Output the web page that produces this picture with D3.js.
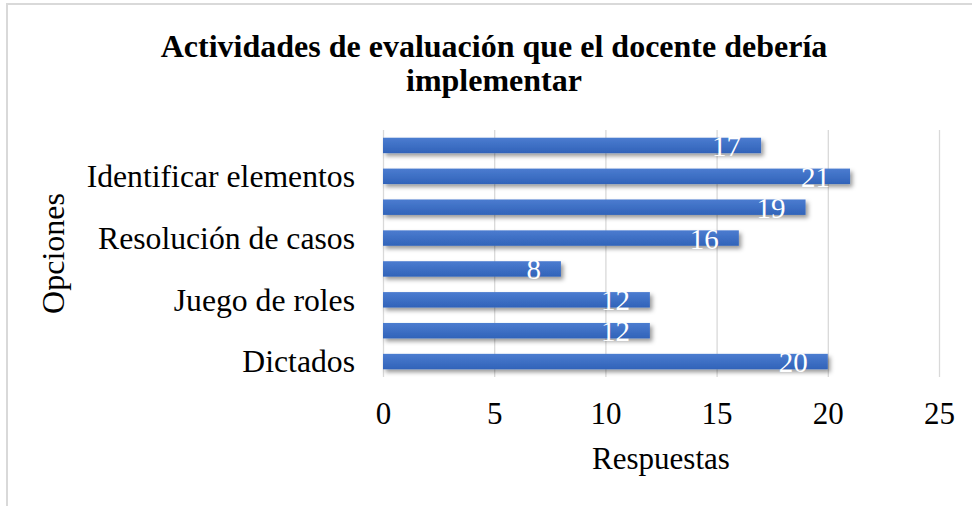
<!DOCTYPE html>
<html>
<head>
<meta charset="utf-8">
<script src="https://cdn.jsdelivr.net/npm/d3@7"></script>
<style>
  html, body { margin: 0; padding: 0; background: #fff; }
  svg { display: block; }
</style>
</head>
<body>
<svg id="chart" width="972" height="506"></svg>
<script>
// Data (top to bottom as drawn)
const categories = [
  "Opción 8",
  "Identificar elementos",
  "Opción 6",
  "Resolución de casos",
  "Opción 4",
  "Juego de roles",
  "Opción 2",
  "Dictados"
];
const values = [17, 21, 19, 16, 8, 12, 12, 20];
const shownLabels = ["Identificar elementos", "Resolución de casos", "Juego de roles", "Dictados"];
const xTicks = [0, 5, 10, 15, 20, 25];
const titleLines = ["Actividades de evaluación que el docente debería", "implementar"];
const xTitle = "Respuestas";
const yTitle = "Opciones";

const svg = d3.select("#chart");
const W = 972, H = 506;
const font = "'Liberation Serif', 'Times New Roman', serif";

svg.append("rect").attr("width", W).attr("height", H).attr("fill", "#fff");

// chart border (partially visible)
svg.append("path")
  .attr("d", `M7,${H} L7,4 L${W},4`)
  .attr("fill", "none").attr("stroke", "#d9d9d9").attr("stroke-width", 2);

const plot = { left: 383, right: 939, top: 130, bottom: 377 };

const x = d3.scaleLinear().domain([0, 25]).range([plot.left, plot.right]);
const y = d3.scaleBand().domain(categories).range([plot.top, plot.bottom]).paddingInner(0.5).paddingOuter(0.25);

const defs = svg.append("defs");
const grad = defs.append("linearGradient").attr("id", "barGrad")
  .attr("x1", 0).attr("y1", 0).attr("x2", 0).attr("y2", 1);
grad.append("stop").attr("offset", "0%").attr("stop-color", "#4b7cd0");
grad.append("stop").attr("offset", "100%").attr("stop-color", "#3163b9");

const filt = defs.append("filter").attr("id", "shadow")
  .attr("x", "-5%").attr("y", "-40%").attr("width", "115%").attr("height", "200%");
filt.append("feDropShadow").attr("dx", 2.5).attr("dy", 3).attr("stdDeviation", 2)
  .attr("flood-color", "#000").attr("flood-opacity", 0.4);

// Gridlines
const xAxisGrid = d3.axisBottom(x).tickValues(xTicks).tickSize(-(plot.bottom - plot.top)).tickFormat("");
const grid = svg.append("g").attr("transform", `translate(0,${plot.bottom})`).call(xAxisGrid);
grid.select(".domain").remove();
grid.selectAll("line").attr("stroke", "#d9d9d9").attr("stroke-width", 1.3);

// Bars
svg.append("g").selectAll("rect").data(values).join("rect")
  .attr("x", x(0))
  .attr("y", (d, i) => y(categories[i]))
  .attr("width", d => x(d) - x(0))
  .attr("height", y.bandwidth())
  .attr("fill", "url(#barGrad)")
  .attr("filter", "url(#shadow)");

// Data labels
svg.append("g").selectAll("text").data(values).join("text")
  .attr("x", d => x(d) - 20)
  .attr("y", (d, i) => y(categories[i]) + y.bandwidth() / 2)
  .attr("dy", "0.36em")
  .attr("text-anchor", "end")
  .attr("font-family", font)
  .attr("font-size", 29)
  .attr("fill", "#fff")
  .text(d => d);

// X axis tick labels
const xAxis = d3.axisBottom(x).tickValues(xTicks).tickSize(0).tickPadding(0).tickFormat(d3.format("d"));
const xg = svg.append("g").attr("transform", `translate(0,${plot.bottom})`).call(xAxis);
xg.select(".domain").remove();
xg.selectAll("text")
  .attr("font-family", font).attr("font-size", 31).attr("fill", "#000")
  .attr("y", 47).attr("dy", 0);

// Y axis labels (every other category)
const yAxis = d3.axisLeft(y).tickSize(0).tickPadding(0)
  .tickFormat(d => shownLabels.includes(d) ? d : "");
const yg = svg.append("g").attr("transform", `translate(${plot.left - 28},0)`).call(yAxis);
yg.select(".domain").remove();
yg.selectAll("text")
  .attr("font-family", font).attr("font-size", 31.7).attr("fill", "#000")
  .attr("dy", "0.34em");

// Axis titles
svg.append("text")
  .attr("x", x(12.5)).attr("y", 469)
  .attr("text-anchor", "middle")
  .attr("font-family", font).attr("font-size", 31).attr("fill", "#000")
  .text(xTitle);

svg.append("text")
  .attr("transform", `translate(64,${(plot.top + plot.bottom) / 2}) rotate(-90)`)
  .attr("text-anchor", "middle")
  .attr("font-family", font).attr("font-size", 32).attr("fill", "#000")
  .text(yTitle);

// Title
svg.append("text")
  .attr("text-anchor", "middle")
  .attr("font-family", font).attr("font-size", 32).attr("font-weight", "bold").attr("fill", "#000")
  .selectAll("tspan").data(titleLines).join("tspan")
  .attr("x", 494).attr("y", (d, i) => 57 + i * 33.5)
  .text(d => d);
</script>
</body>
</html>
